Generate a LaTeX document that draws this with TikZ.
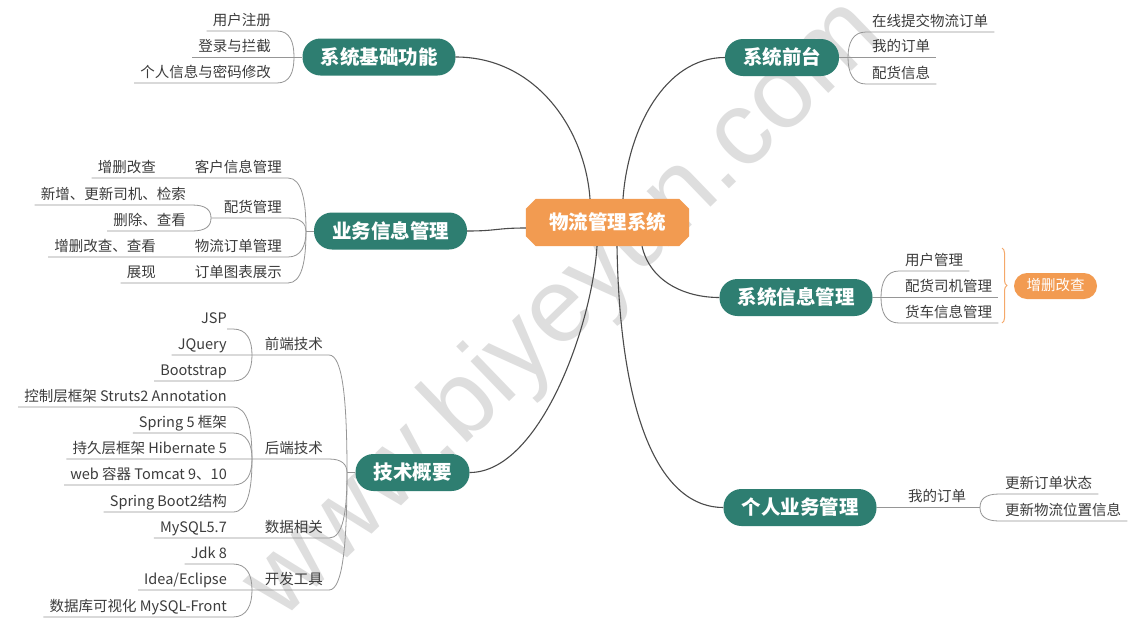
\documentclass[tikz,border=0pt]{standalone}
\usepackage{fontspec}
\setmainfont{Noto Sans CJK SC}
\newfontfamily\wmfont{Liberation Sans}
\usetikzlibrary{backgrounds,decorations.pathreplacing}
\definecolor{teal1}{RGB}{46,126,113}
\definecolor{orng}{RGB}{242,155,81}
\definecolor{txtc}{RGB}{60,60,60}
\definecolor{linec}{RGB}{150,150,150}
\definecolor{mainc}{RGB}{75,75,75}
\definecolor{wmc}{RGB}{222,222,222}
\definecolor{bracec}{RGB}{245,168,105}
\begin{document}
\begin{tikzpicture}[x=1pt,y=-1pt,
  leaf/.style={font=\fontsize{14.5}{17}\selectfont, text=txtc, inner xsep=6pt, inner ysep=3pt, text height=11pt, text depth=2.5pt},
  ll/.style={leaf, anchor=south east},
  rl/.style={leaf, anchor=south west},
  branch/.style={fill=teal1, text=white, font=\fontsize{19.5}{22}\selectfont\bfseries, rounded corners=18pt, minimum height=37pt, inner xsep=18pt, inner ysep=0pt, text height=16pt, text depth=2pt},
  sumbox/.style={fill=orng, text=white, font=\fontsize{14.5}{17}\selectfont, rounded corners=13pt, minimum height=26pt, inner xsep=12.5pt, inner ysep=0pt, text height=11.5pt, text depth=2pt},
  ul/.style={draw=linec, line width=0.8pt},
  conn/.style={draw=mainc, line width=1.1pt},
]
\useasboundingbox (0,0) rectangle (1140,625);

% central node
\node[font=\fontsize{19.5}{22}\selectfont\bfseries, text=white, minimum width=163pt, minimum height=47pt, inner sep=0pt, text height=16pt, text depth=2pt] (C) at (607.5,222.5) {物流管理系统};
\begin{scope}[on background layer]
  \fill[white] (0,0) rectangle (1140,625);
  \node[font=\wmfont\fontsize{105}{105}\selectfont, text=wmc, rotate=44] (wm) at (565,310) {www.biyeyun.com};
  \fill[orng] ([xshift=10pt]C.north west) -- ([xshift=-10pt]C.north east) -- ([yshift=-10pt]C.north east) -- ([yshift=10pt]C.south east) -- ([xshift=-10pt]C.south east) -- ([xshift=10pt]C.south west) -- ([yshift=10pt]C.south west) -- ([yshift=-10pt]C.north west) -- cycle;
\end{scope}

% branches
\node[branch] (B1) at (379,57) {系统基础功能};
\node[branch] (B2) at (390.5,231) {业务信息管理};
\node[branch] (B3) at (412.5,472.5) {技术概要};
\node[branch] (B4) at (782,57.5) {系统前台};
\node[branch] (B5) at (796,297.5) {系统信息管理};
\node[branch] (B6) at (800,507.5) {个人业务管理};

% main connectors
\draw[conn] (B1.east) .. controls +(80,0) and +(-5,-70) .. ([xshift=-17.5pt]C.north);
\draw[conn] (B4.west) .. controls +(-60,0) and +(5,-70) .. ([xshift=15.5pt]C.north);
\draw[conn] (B2.east) .. controls +(30,0) and +(-30,0) .. ([yshift=-5.5pt]C.west);
\draw[conn] (B3.east) .. controls +(70,0) and +(-5,80) .. ([xshift=-10.5pt]C.south);
\draw[conn] ([xshift=9.5pt]C.south) .. controls +(3,180) and +(-60,0) .. (B6.west);
\draw[conn] ([xshift=34.5pt]C.south) .. controls +(8,35) and +(-35,0) .. (B5.west);

% group 1
\node[ll] (u1) at (277,31) {用户注册};
\node[ll] (u2) at (277,57) {登录与拦截};
\node[ll] (u3) at (277,83) {个人信息与密码修改};
\coordinate (J1) at (294,57);
\draw[ul] (u1.south west) -- (u1.south east) .. controls +(13,0) and +(0,-15) .. (J1);
\draw[ul] (u3.south west) -- (u3.south east) .. controls +(13,0) and +(0,15) .. (J1);
\draw[ul] (u2.south west) -- (B1.west);

% group 2
\node[ll] (c1) at (288,178) {客户信息管理};
\node[ll] (c1a) at (162,178) {增删改查};
\node[ll] (c2) at (288,218) {配货管理};
\node[ll] (c2a) at (192,205) {新增、更新司机、检索};
\node[ll] (c2b) at (192,231) {删除、查看};
\node[ll] (c3) at (288,257) {物流订单管理};
\node[ll] (c3a) at (162,257) {增删改查、查看};
\node[ll] (c4) at (288,283) {订单图表展示};
\node[ll] (c4a) at (162,283) {展现};
\coordinate (J2) at (306,231);
\coordinate (J2b) at (211,218);
\draw[ul] (c1a.south west) -- (c1.south east) .. controls +(14,0) and +(0,-30) .. (J2);
\draw[ul] (J2b) -- (c2.south east) .. controls +(13,0) and +(0,-7) .. (J2);
\draw[ul] (c3a.south west) -- (c3.south east) .. controls +(13,0) and +(0,15) .. (J2);
\draw[ul] (c4a.south west) -- (c4.south east) .. controls +(14,0) and +(0,30) .. (J2);
\draw[ul] (J2) -- (B2.west);
\draw[ul] (c2a.south west) -- (c2a.south east) .. controls +(14,0) and +(0,-8) .. (J2b);
\draw[ul] (c2b.south west) -- (c2b.south east) .. controls +(14,0) and +(0,8) .. (J2b);

% group 3
\node[ll] (t1) at (329,355) {前端技术};
\node[ll] (t1a) at (233,329) {JSP};
\node[ll] (t1b) at (233,355) {JQuery};
\node[ll] (t1c) at (233,381) {Bootstrap};
\node[ll] (t2) at (329,459) {后端技术};
\node[ll] (t2a) at (233,407) {控制层框架 Struts2 Annotation};
\node[ll] (t2b) at (233,433) {Spring 5 框架};
\node[ll] (t2c) at (233,459) {持久层框架 Hibernate 5};
\node[ll] (t2d) at (233,485) {web 容器 Tomcat 9、10};
\node[ll] (t2e) at (233,512) {Spring Boot2结构};
\node[ll] (t3) at (329,538) {数据相关};
\node[ll] (t3a) at (233,538) {MySQL5.7};
\node[ll] (t4) at (329,590) {开发工具};
\node[ll] (t4a) at (233,564) {Jdk 8};
\node[ll] (t4b) at (233,590) {Idea/Eclipse};
\node[ll] (t4c) at (233,617) {数据库可视化 MySQL-Front};
\coordinate (J3) at (347,472.5);
\coordinate (J31) at (252,355);
\coordinate (J32) at (252,459);
\coordinate (J34) at (252,590);
\draw[ul] (t1b.south west) -- (t1.south east) .. controls +(14,0) and +(0,-70) .. (J3);
\draw[ul] (t2c.south west) -- (t2.south east) .. controls +(13,0) and +(0,-8) .. (J3);
\draw[ul] (t3a.south west) -- (t3.south east) .. controls +(14,0) and +(0,40) .. (J3);
\draw[ul] (t4b.south west) -- (t4.south east) .. controls +(14,0) and +(0,70) .. (J3);
\draw[ul] (J3) -- (B3.west);
\draw[ul] ([xshift=-6pt]t1a.south east) -- (t1a.south east) .. controls +(14,0) and +(0,-15) .. (J31);
\draw[ul] (t1c.south west) -- (t1c.south east) .. controls +(14,0) and +(0,15) .. (J31);
\draw[ul] (t2a.south west) -- (t2a.south east) .. controls +(15,0) and +(0,-30) .. (J32);
\draw[ul] (t2b.south west) -- (t2b.south east) .. controls +(14,0) and +(0,-15) .. (J32);
\draw[ul] (t2d.south west) -- (t2d.south east) .. controls +(14,0) and +(0,15) .. (J32);
\draw[ul] (t2e.south west) -- (t2e.south east) .. controls +(15,0) and +(0,30) .. (J32);
\draw[ul] (t4a.south west) -- (t4a.south east) .. controls +(14,0) and +(0,-15) .. (J34);
\draw[ul] (t4c.south west) -- (t4c.south east) .. controls +(14,0) and +(0,15) .. (J34);

% right group 1
\node[rl] (f1) at (866,32) {在线提交物流订单};
\node[rl] (f2) at (866,57.5) {我的订单};
\node[rl] (f3) at (866,84) {配货信息};
\coordinate (J4) at (848,57.5);
\draw[ul] (f1.south east) -- (f1.south west) .. controls +(-13,0) and +(0,-15) .. (J4);
\draw[ul] (f3.south east) -- (f3.south west) .. controls +(-13,0) and +(0,15) .. (J4);
\draw[ul] (B4.east) -- (f2.south east);

% right group 2
\node[rl] (s1) at (899,271) {用户管理};
\node[rl] (s2) at (899,297.5) {配货司机管理};
\node[rl] (s3) at (899,323) {货车信息管理};
\coordinate (J5) at (881,297.5);
\draw[ul] (s1.south east) -- (s1.south west) .. controls +(-13,0) and +(0,-15) .. (J5);
\draw[ul] (s3.south east) -- (s3.south west) .. controls +(-13,0) and +(0,15) .. (J5);
\draw[ul] (B5.east) -- (s2.south east);
\draw[draw=bracec, line width=1pt, decorate, decoration={brace, amplitude=5pt}] (1002,248) -- (1002,323);
\node[sumbox] (sm) at (1055.5,286) {增删改查};

% right group 3
\node[rl] (g0) at (902,507.5) {我的订单};
\coordinate (J6) at (980,507.5);
\node[rl] (g1) at (999,494) {更新订单状态};
\node[rl] (g2) at (999,521) {更新物流位置信息};
\draw[ul] (B6.east) -- (J6);
\draw[ul] (g1.south east) -- (g1.south west) .. controls +(-14,0) and +(0,-8) .. (J6);
\draw[ul] (g2.south east) -- (g2.south west) .. controls +(-14,0) and +(0,8) .. (J6);
\end{tikzpicture}
\end{document}
